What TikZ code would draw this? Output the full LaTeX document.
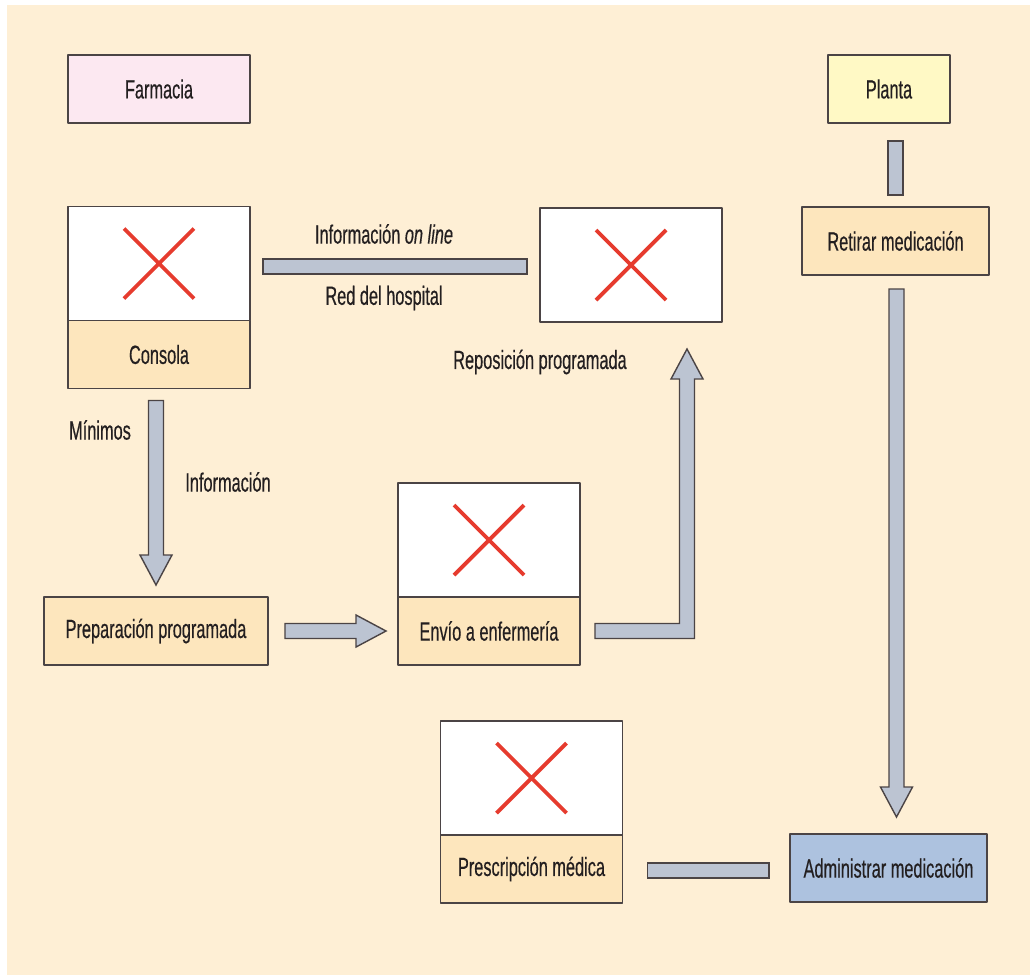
\documentclass[tikz,border=0pt]{standalone}
\usepackage{fontspec}
\setmainfont{Liberation Sans}[FakeStretch=0.62,FakeBold=0.4]
\usetikzlibrary{calc,positioning}
\definecolor{fondo}{HTML}{FEEFD5}
\definecolor{melocoton}{HTML}{FDE6BD}
\definecolor{rosa}{HTML}{FCE8F1}
\definecolor{amarillo}{HTML}{FFF9C5}
\definecolor{gris}{HTML}{BCC4D2}
\definecolor{azul}{HTML}{ADC2DF}
\definecolor{borde}{HTML}{4B4445}
\definecolor{rojo}{HTML}{E63B2E}
\definecolor{letra}{HTML}{231F20}
\tikzset{
	caja/.style={draw=borde,line width=0.8pt,fill=melocoton,minimum width=3.64cm,minimum height=1.36cm,inner sep=0pt,outer sep=0pt},
	foto/.style={caja,fill=white,minimum height=2.28cm},
	barra/.style={draw=borde,line width=0.8pt,fill=gris,line join=miter},
	cruz/.style={draw=rojo,line width=2.2pt}
}
\begin{document}
\begin{tikzpicture}[x=0.02cm,y=-0.02cm,line join=round,text=letra,font=\fontsize{15}{17}\selectfont]
			\def\sw{7.5} % medio ancho de la barra
			\def\hw{16} % medio ancho de la punta
			\def\hl{30} % largo de la punta
			\useasboundingbox (0,0) rectangle (1030,975);
			\fill[fondo] (7,5) rectangle (1030,975);
			% cajas de arriba
			\node[caja,fill=rosa] (farmacia) at (159,89) {Farmacia};
			\node[caja,fill=amarillo,minimum width=2.44cm] (planta) at (889,89) {Planta};
			% cajas con foto
			\node[foto] (consolaimg) at (159,263.5) {};
			\node[caja,below=0pt of consolaimg] (consola) {Consola};
			\node[foto] (redimg) at (631,265) {};
			\node[foto] (envioimg) at (489,540) {};
			\node[caja,below=0pt of envioimg] (envio) {Envío a enfermería};
			\node[foto] (prescimg) at (531.5,778) {};
			\node[caja,below=0pt of prescimg] (presc) {Prescripción médica};
			% otras cajas
			\node[caja,minimum width=3.74cm] (retirar) at (895.5,241) {Retirar medicación};
			\node[caja,minimum width=4.48cm] (prep) at (156,631) {Preparación programada};
			\node[caja,fill=azul,minimum width=3.94cm] (admin) at (888.5,868) {Administrar medicación};
			% cruces rojas
			\foreach \f in {consolaimg,redimg,envioimg,prescimg}
				\draw[cruz] ($(\f.center)+(-35,-35)$) -- ($(\f.center)+(35,35)$)
				($(\f.center)+(-35,35)$) -- ($(\f.center)+(35,-35)$);
			% barras sin punta
			\draw[barra] ($(consolaimg.east)+(13,-4.5)$) rectangle ($(redimg.west)+(-13,9)$);
			\draw[barra] ($(retirar.north|-planta.south)+(-\sw,18)$) rectangle ($(retirar.north)+(\sw,-12)$);
			\draw[barra] ($(presc.east)+(25,-6)$) rectangle ($(admin.west)+(-21,10)$);
			% flechas
			\coordinate (t3) at ($(retirar.south|-admin.north)+(1,-17)$);
			\draw[barra] ($(retirar.south)+(1-\sw,14)$) -- ($(t3)+(-\sw,-\hl)$) -- ($(t3)+(-\hw,-\hl)$) -- (t3)
			-- ($(t3)+(\hw,-\hl)$) -- ($(t3)+(\sw,-\hl)$) -- ($(retirar.south)+(1+\sw,14)$) -- cycle;
			\coordinate (t4) at ($(prep.north)+(0,-12)$);
			\draw[barra] ($(t4|-consola.south)+(-\sw,12)$) -- ($(t4)+(-\sw,-\hl)$) -- ($(t4)+(-\hw,-\hl)$) -- (t4)
			-- ($(t4)+(\hw,-\hl)$) -- ($(t4)+(\sw,-\hl)$) -- ($(t4|-consola.south)+(\sw,12)$) -- cycle;
			\coordinate (t5) at ($(envio.west|-prep.east)+(-12,0)$);
			\draw[barra] ($(prep.east)+(17,-\sw)$) -- ($(t5)+(-\hl,-\sw)$) -- ($(t5)+(-\hl,-\hw)$) -- (t5)
			-- ($(t5)+(-\hl,\hw)$) -- ($(t5)+(-\hl,\sw)$) -- ($(prep.east)+(17,\sw)$) -- cycle;
			\coordinate (e6) at ($(envio.east)+(15,0)$);
			\coordinate (t6) at ($(redimg.south)+(56,27)$);
			\draw[barra] ($(e6)+(0,-\sw)$) -- ($(t6|-e6)+(-\sw,-\sw)$) -- ($(t6)+(-\sw,\hl)$) -- ($(t6)+(-\hw,\hl)$) -- (t6)
			-- ($(t6)+(\hw,\hl)$) -- ($(t6)+(\sw,\hl)$) -- ($(t6|-e6)+(\sw,\sw)$) -- ($(e6)+(0,\sw)$) -- cycle;
			% textos
			\node (online) at (384,234) {Información \textit{on line}};
			\node (red) at (384,298) {Red del hospital};
			\node (repos) at (540,362) {Reposición programada};
			\node (minimos) at (100,430) {Mínimos};
			\node (informacion) at (228,482) {Información};
		\end{tikzpicture}
\end{document}
